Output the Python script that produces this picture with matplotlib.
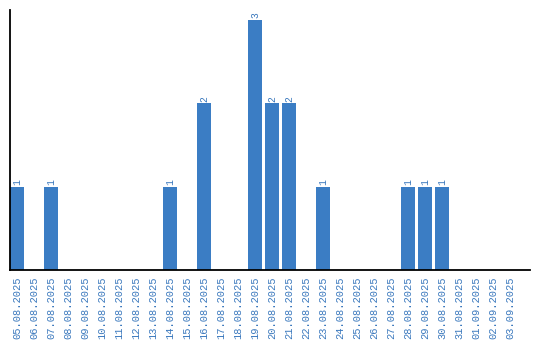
import matplotlib
matplotlib.use("Agg")
import matplotlib.pyplot as plt
import pandas as pd

# daily counts
dates = pd.date_range("2025-08-05", "2025-09-03", freq="D")
labels = [d.strftime("%d.%m.%Y") for d in dates]
counts = [1, 0, 1, 0, 0, 0, 0, 0, 0, 1, 0, 2, 0, 0, 3,
          2, 2, 0, 1, 0, 0, 0, 0, 1, 1, 1, 0, 0, 0, 0]

bar_color = "#3b7dc4"
text_color = "#3a78bd"

fig = plt.figure(figsize=(5.4, 3.4), dpi=100)
ax = fig.add_axes([10 / 540, 70 / 340, 520 / 540, 260 / 340])

x = list(range(len(labels)))
bars = ax.bar(x, counts, width=0.82, color=bar_color)

for xi, c in zip(x, counts):
    if c > 0:
        ax.text(xi, c + 0.02, str(c), rotation=90, ha="center", va="bottom",
                fontsize=7, color=text_color, family="Liberation Mono")

ax.set_xlim(-0.41, 30.18)
ax.set_ylim(0, 3.12)
ax.set_xticks(x)
ax.set_xticklabels(labels, rotation=90, fontsize=7.5, color=text_color,
                   family="Liberation Mono")
ax.tick_params(axis="x", length=0, pad=5)
ax.set_yticks([])
ax.spines["top"].set_visible(False)
ax.spines["right"].set_visible(False)
ax.spines["left"].set_linewidth(1.3)
ax.spines["bottom"].set_linewidth(1.3)

fig.savefig("out.png", dpi=100)
